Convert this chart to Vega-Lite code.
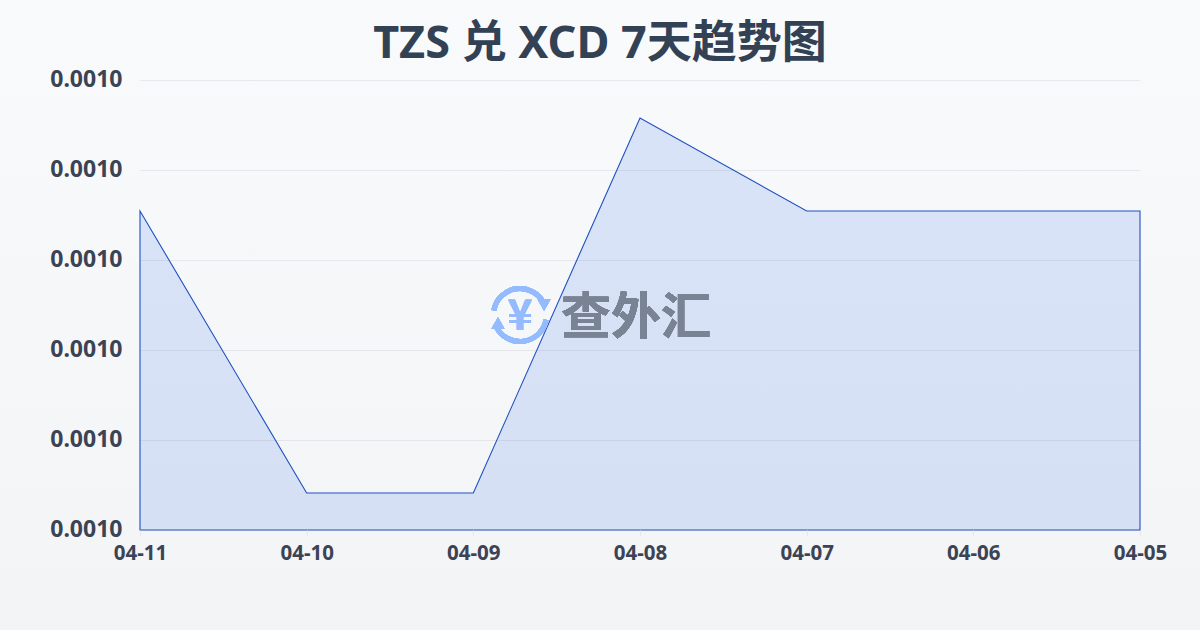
{
"$schema":"https://vega.github.io/schema/vega-lite/v6.json",
"width":1000,"height":450,
"autosize":{"type":"none"},
"padding":{"left":140,"top":80,"right":60,"bottom":100},
"background":"#f5f7fa",
"title":{"text":"TZS 兑 XCD 7天趋势图","anchor":"middle","frame":"group","dx":-40,"offset":-67,"zindex":1,"fontSize":45,"fontWeight":"bold","font":"Noto Sans, Noto Sans CJK SC","color":"#334155"},
"config":{"view":{"stroke":null}},
"data":{"values":[
{"date":"2025-04-11T00:00:00","rate":0.00101545},
{"date":"2025-04-10T00:00:00","rate":0.00098411},
{"date":"2025-04-09T00:00:00","rate":0.00098411},
{"date":"2025-04-08T00:00:00","rate":0.00102578},
{"date":"2025-04-07T00:00:00","rate":0.00101545},
{"date":"2025-04-06T00:00:00","rate":0.00101545},
{"date":"2025-04-05T00:00:00","rate":0.00101545}
]},
"encoding":{
"x":{"field":"date","type":"temporal","scale":{"reverse":true,"nice":false},"axis":{"title":null,"format":"%m-%d","tickCount":{"interval":"day","step":1},"grid":false,"domain":false,"zindex":1,"tickColor":"#e5e7eb","tickSize":6,"labelFontSize":20.5,"labelFontWeight":"bold","labelFont":"Noto Sans, Noto Sans CJK SC","labelColor":"#3b4354","labelPadding":7,"labelOverlap":false,"labelFlush":false}},
"y":{"field":"rate","type":"quantitative","scale":{"domain":[0.00098,0.00103],"zero":false,"nice":false},"axis":{"title":null,"format":".4f","values":[0.00098,0.00099,0.001,0.00101,0.00102,0.00103],"grid":true,"gridColor":"#6b7280","gridOpacity":0.12,"domain":false,"ticks":false,"zindex":1,"labelFontSize":23,"labelFontWeight":"bold","labelFont":"Noto Sans, Noto Sans CJK SC","labelColor":"#3b4354","labelPadding":18,"labelOffset":-1}}
},
"layer":[
{"mark":{"type":"rect","clip":false,"fill":{"gradient":"linear","x1":0,"y1":0,"x2":0,"y2":1,"stops":[{"offset":0,"color":"#f8fafc"},{"offset":1,"color":"#f3f4f6"}]}},"encoding":{"x":{"value":-140},"x2":{"value":1060},"y":{"value":-80},"y2":{"value":550}}},
{"mark":{"type":"area","fill":"#2563eb","fillOpacity":0.14,"stroke":"#1e50c0","strokeWidth":1.1,"strokeOpacity":1},"encoding":{"y2":{"datum":0.00098}}},
{"mark":{"type":"text","text":"查外汇","font":"Noto Sans CJK SC","fontWeight":"bold","fontSize":50,"fill":"#7a8394","align":"center","baseline":"middle"},"encoding":{"x":{"datum":{"year":2025,"month":4,"date":8,"hours":0,"minutes":35},"type":"temporal"},"y":{"datum":0.00100345}}},
{"mark":{"type":"text","text":"¥","font":"Noto Sans CJK SC","fontWeight":"bold","fontSize":42,"fill":"#93bbfd","align":"center","baseline":"middle"},"encoding":{"x":{"datum":{"year":2025,"month":4,"date":8,"hours":17,"minutes":17},"type":"temporal"},"y":{"datum":0.00100367}}},
{"mark":{"type":"arc","innerRadius":24,"outerRadius":29,"theta":-1.4,"theta2":1.1,"fill":"#93bbfd"},"encoding":{"x":{"datum":{"year":2025,"month":4,"date":8,"hours":17,"minutes":17},"type":"temporal"},"y":{"datum":0.00100389}}},
{"mark":{"type":"arc","innerRadius":24,"outerRadius":29,"theta":1.75,"theta2":4.24,"fill":"#93bbfd"},"encoding":{"x":{"datum":{"year":2025,"month":4,"date":8,"hours":17,"minutes":17},"type":"temporal"},"y":{"datum":0.00100389}}},
{"mark":{"type":"point","shape":"triangle-down","size":170,"filled":true,"fill":"#93bbfd","opacity":1},"encoding":{"x":{"datum":{"year":2025,"month":4,"date":8,"hours":13,"minutes":49},"type":"temporal"},"y":{"datum":0.001005}}},
{"mark":{"type":"point","shape":"triangle-up","size":170,"filled":true,"fill":"#93bbfd","opacity":1},"encoding":{"x":{"datum":{"year":2025,"month":4,"date":8,"hours":20,"minutes":27},"type":"temporal"},"y":{"datum":0.001003}}}
]
}
